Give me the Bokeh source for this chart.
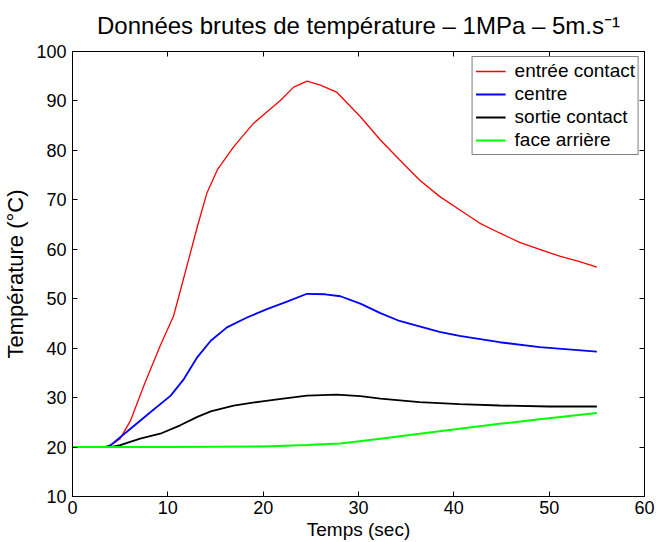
from bokeh.plotting import figure
from bokeh.models import FixedTicker, LinearAxis, Legend, LegendItem, CustomLabelingPolicy
from bokeh.embed import file_html
from bokeh.resources import INLINE

# ---- data ----
t_entree = [0, 3.0, 4.0, 5.0, 6.1, 7.5, 9.2, 10.6, 12.0, 13.1, 14.1, 15.2, 16.9, 19.0,
            21.8, 23.2, 24.6, 26.0, 27.7, 30.2, 32.3, 34.3, 36.4, 38.5, 40.6, 42.7,
            44.8, 46.9, 49.0, 51.1, 53.2, 55.0]
T_entree = [20.0, 20.0, 20.3, 21.7, 25.4, 32.5, 40.5, 46.5, 56.6, 64.6, 71.4, 76.1, 80.7, 85.5,
            90.1, 92.8, 94.0, 93.2, 91.8, 86.8, 82.1, 78.1, 74.0, 70.7, 68.0, 65.3,
            63.3, 61.4, 60.0, 58.6, 57.5, 56.4]

t_centre = [0, 3.5, 4.0, 5.7, 8.2, 10.3, 11.7, 13.1, 14.5, 16.2, 18.3, 20.4, 22.5, 24.6,
            26.5, 28.1, 30.2, 32.3, 34.3, 36.4, 38.5, 40.6, 44.8, 49.0, 55.0]
T_centre = [20.0, 20.0, 20.4, 23.1, 27.1, 30.4, 33.8, 38.2, 41.5, 44.2, 46.2, 47.9, 49.4, 51.0,
            50.9, 50.5, 49.0, 47.1, 45.5, 44.4, 43.3, 42.5, 41.2, 40.2, 39.3]

t_sortie = [0, 4.0, 5.0, 7.1, 9.2, 11.3, 13.1, 14.5, 16.9, 19.7, 22.1, 24.6, 27.7, 30.2,
            32.3, 36.4, 40.6, 44.8, 50.0, 55.0]
T_sortie = [20.0, 20.0, 20.4, 21.7, 22.7, 24.4, 26.1, 27.2, 28.4, 29.2, 29.8, 30.4, 30.6, 30.3,
            29.8, 29.1, 28.7, 28.4, 28.2, 28.2]

t_arriere = [0, 10, 20, 24.6, 28.1, 32.3, 36.4, 40.6, 44.8, 49.0, 55.0]
T_arriere = [20.0, 20.0, 20.1, 20.4, 20.7, 21.7, 22.7, 23.7, 24.7, 25.6, 26.9]

labels = ["entrée contact", "centre", "sortie contact", "face arrière"]
colors = ["#ff0000", "#0000ff", "#000000", "#00ff00"]
x_ticks = [0, 10, 20, 30, 40, 50, 60]
y_ticks = [10, 20, 30, 40, 50, 60, 70, 80, 90, 100]

title_text = "Données brutes de température \u2013 1MPa \u2013 5m.s\u207b\u00b9"
x_label = "Temps (sec)"
y_label = "Température (°C)"
FONT = "Liberation Sans"

p = figure(width=656, height=542, x_range=(0, 60), y_range=(10, 100),
           output_backend="svg", toolbar_location=None,
           min_border_left=72, min_border_right=12, min_border_top=51, min_border_bottom=44)

p.title.text = title_text
p.title.align = "center"
p.title.offset = 8
p.title.text_font = FONT
p.title.text_font_size = "24px"
p.title.text_font_style = "normal"
p.title.text_color = "black"
p.title.standoff = 18

p.xgrid.visible = False
p.ygrid.visible = False
p.outline_line_color = "black"
p.outline_line_width = 1
p.background_fill_color = "white"
p.border_fill_color = "white"

def style_axis(ax, size="18px"):
    ax.axis_line_color = "black"
    ax.major_tick_line_color = "black"
    ax.major_tick_in = 5
    ax.major_tick_out = 0
    ax.minor_tick_line_color = None
    ax.major_label_text_font = FONT
    ax.major_label_text_font_size = size
    ax.major_label_text_color = "black"
    ax.axis_label_text_font = FONT
    ax.axis_label_text_font_style = "normal"
    ax.axis_label_text_color = "black"

xa = p.xaxis[0]
ya = p.yaxis[0]
xa.ticker = FixedTicker(ticks=x_ticks)
ya.ticker = FixedTicker(ticks=y_ticks)
style_axis(xa)
style_axis(ya)
xa.axis_label = x_label
xa.axis_label_text_font_size = "19px"
xa.axis_label_standoff = 2
xa.major_label_standoff = 4
ya.axis_label = y_label
ya.axis_label_text_font_size = "22px"
ya.axis_label_standoff = 5
ya.major_label_standoff = 6

hide_code = """
    for (const i of indices) indices.unset(i)
    return indices
"""
top_ax = LinearAxis(ticker=FixedTicker(ticks=x_ticks))
style_axis(top_ax, size="1px")
top_ax.major_label_policy = CustomLabelingPolicy(code=hide_code)
top_ax.major_label_standoff = 0
p.add_layout(top_ax, "above")
right_ax = LinearAxis(ticker=FixedTicker(ticks=y_ticks))
style_axis(right_ax, size="1px")
right_ax.major_label_policy = CustomLabelingPolicy(code=hide_code)
right_ax.major_label_standoff = 0
p.add_layout(right_ax, "right")

series = [(t_entree, T_entree, 1.3), (t_centre, T_centre, 1.8),
          (t_sortie, T_sortie, 1.8), (t_arriere, T_arriere, 2.0)]
renderers = []
for (tx, ty, lw), c in zip(series, colors):
    r = p.line(tx, ty, line_color=c, line_width=lw)
    renderers.append(r)

legend = Legend(items=[LegendItem(label=l, renderers=[r]) for l, r in zip(labels, renderers)],
                location="top_right", margin=5, padding=3, spacing=1,
                glyph_width=30, glyph_height=22, label_height=22, label_standoff=9,
                label_text_font=FONT, label_text_font_size="19px", label_text_color="black",
                border_line_color="black", border_line_width=1,
                background_fill_color="white", background_fill_alpha=1)
p.add_layout(legend, "center")

open("out.html", "w").write(file_html(p, INLINE))
